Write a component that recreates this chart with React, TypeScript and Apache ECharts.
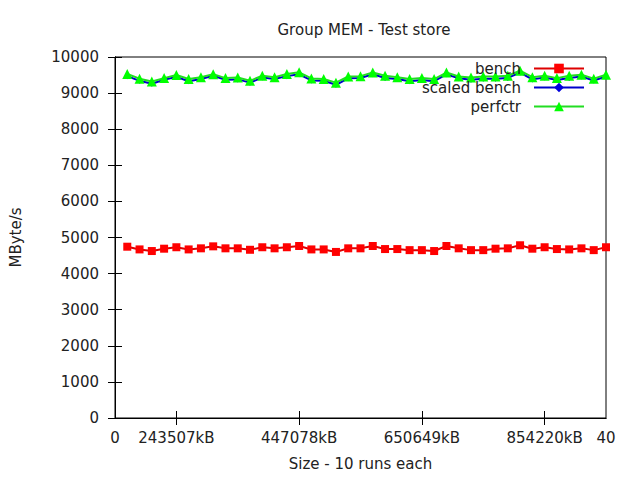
import React, { useEffect, useRef } from "react";
import * as echarts from "echarts";

const runs = [1, 2, 3, 4, 5, 6, 7, 8, 9, 10, 11, 12, 13, 14, 15, 16, 17, 18, 19, 20, 21, 22, 23, 24, 25, 26, 27, 28, 29, 30, 31, 32, 33, 34, 35, 36, 37, 38, 39, 40];

const bench = [4745, 4670, 4625, 4690, 4730, 4670, 4700, 4755, 4700, 4700, 4660, 4730, 4700, 4730, 4765, 4670, 4670, 4600, 4700, 4700, 4765, 4680, 4680, 4650, 4650, 4625, 4765, 4700, 4650, 4650, 4690, 4700, 4785, 4690, 4730, 4680, 4670, 4700, 4650, 4730];

const scaledBench = [9470, 9340, 9260, 9370, 9450, 9330, 9390, 9480, 9370, 9380, 9290, 9430, 9390, 9470, 9520, 9350, 9340, 9230, 9410, 9420, 9520, 9420, 9390, 9330, 9360, 9330, 9520, 9410, 9370, 9400, 9400, 9420, 9570, 9380, 9430, 9360, 9420, 9460, 9350, 9460];

const perfctr = [9530, 9400, 9320, 9415, 9500, 9390, 9440, 9525, 9415, 9430, 9340, 9480, 9440, 9530, 9575, 9405, 9390, 9290, 9460, 9470, 9570, 9480, 9440, 9390, 9415, 9390, 9570, 9460, 9430, 9460, 9460, 9480, 9620, 9440, 9480, 9415, 9480, 9510, 9400, 9510];

const xTickValues = [0, 5, 15, 25, 35, 40];
const xTickLabels = ["0", "243507kB", "447078kB", "650649kB", "854220kB", "40"];
const xInnerTicks = [5, 15, 25, 35];

const seriesNames = ["bench", "scaled bench", "perfctr"];

const TEXT = "#222222";
const FONT = "DejaVu Sans";
const FS = 15;

export default function App() {
  const ref = useRef<HTMLDivElement>(null);

  useEffect(() => {
    if (!ref.current) return;
    const chart = echarts.init(ref.current, null, { renderer: "svg" });

    const pairs = (vals: number[]) => vals.map((v, i) => [runs[i], v]);

    const legendTop = [61, 80, 99];
    const legends = seriesNames.map((name, i) => ({
      data: [name],
      orient: "horizontal",
      right: 55,
      top: legendTop[i],
      padding: 0,
      align: "right",
      itemWidth: 50,
      itemHeight: 12,
      textStyle: {
        fontFamily: FONT,
        fontSize: FS,
        color: TEXT,
        padding: [0, 8, 0, 0],
      },
    }));

    const option: any = {
      animation: false,
      backgroundColor: "#ffffff",
      textStyle: { fontFamily: FONT },
      title: {
        text: "Group MEM - Test store",
        left: 359,
        top: 17,
        textAlign: "center",
        textStyle: {
          fontFamily: FONT,
          fontSize: FS,
          fontWeight: "normal",
          color: TEXT,
        },
      },
      legend: legends,
      grid: {
        left: 113,
        right: 34,
        top: 57,
        bottom: 62,
        show: true,
        borderColor: "#000000",
        borderWidth: 1,
        backgroundColor: "transparent",
      },
      xAxis: [
        {
          type: "value",
          min: 0,
          max: 40,
          position: "bottom",
          name: "Size - 10 runs each",
          nameLocation: "middle",
          nameGap: 38,
          nameTextStyle: { fontFamily: FONT, fontSize: FS, color: TEXT },
          axisLine: { show: true, lineStyle: { color: "#000", width: 1 } },
          axisTick: {
            show: true,
            inside: true,
            length: 7,
            customValues: xInnerTicks,
            lineStyle: { color: "#000" },
          },
          axisLabel: {
            show: true,
            margin: 12,
            customValues: xTickValues,
            fontFamily: FONT,
            fontSize: FS,
            color: TEXT,
            formatter: (v: number) => {
              const idx = xTickValues.indexOf(v);
              return idx >= 0 ? xTickLabels[idx] : "";
            },
          },
          splitLine: { show: false },
        },
        {
          type: "value",
          min: 0,
          max: 40,
          position: "top",
          axisLine: { show: true, lineStyle: { color: "#000", width: 1 } },
          axisTick: {
            show: true,
            inside: true,
            length: 7,
            customValues: xInnerTicks,
            lineStyle: { color: "#000" },
          },
          axisLabel: { show: false, customValues: xInnerTicks },
          splitLine: { show: false },
        },
      ],
      yAxis: [
        {
          type: "value",
          min: 0,
          max: 10000,
          interval: 1000,
          position: "left",
          name: "MByte/s",
          nameLocation: "middle",
          nameGap: 92,
          nameTextStyle: { fontFamily: FONT, fontSize: FS, color: TEXT },
          axisLine: { show: true, lineStyle: { color: "#000", width: 1 } },
          axisTick: { show: true, inside: true, length: 7, lineStyle: { color: "#000" } },
          axisLabel: {
            margin: 16,
            fontFamily: FONT,
            fontSize: FS,
            color: TEXT,
            formatter: (v: number) => String(v),
          },
          splitLine: { show: false },
        },
        {
          type: "value",
          min: 0,
          max: 10000,
          interval: 1000,
          position: "right",
          axisLine: { show: true, lineStyle: { color: "#000", width: 1 } },
          axisTick: { show: true, inside: true, length: 7, lineStyle: { color: "#000" } },
          axisLabel: { show: false },
          splitLine: { show: false },
        },
      ],
      series: [
        {
          name: "bench",
          type: "line",
          xAxisIndex: 0,
          yAxisIndex: 0,
          data: pairs(bench),
          symbol: "rect",
          symbolSize: 8,
          showAllSymbol: true,
          lineStyle: { color: "#dd0000", width: 2 },
          itemStyle: { color: "#ff0000", borderWidth: 0 },
        },
        {
          name: "scaled bench",
          type: "line",
          xAxisIndex: 0,
          yAxisIndex: 0,
          data: pairs(scaledBench),
          symbol: "diamond",
          symbolSize: 6,
          showAllSymbol: true,
          lineStyle: { color: "#0000cc", width: 2 },
          itemStyle: { color: "#0000dd", borderWidth: 0 },
        },
        {
          name: "perfctr",
          type: "line",
          xAxisIndex: 0,
          yAxisIndex: 0,
          data: pairs(perfctr),
          symbol: "triangle",
          symbolSize: 10,
          showAllSymbol: true,
          lineStyle: { color: "#22dd22", width: 2 },
          itemStyle: { color: "#00ff00", borderWidth: 0 },
        },
      ],
    };

    chart.setOption(option);
    return () => chart.dispose();
  }, []);

  return <div ref={ref} style={{ width: 640, height: 480, position: "absolute", left: 0, top: 0 }} />;
}
